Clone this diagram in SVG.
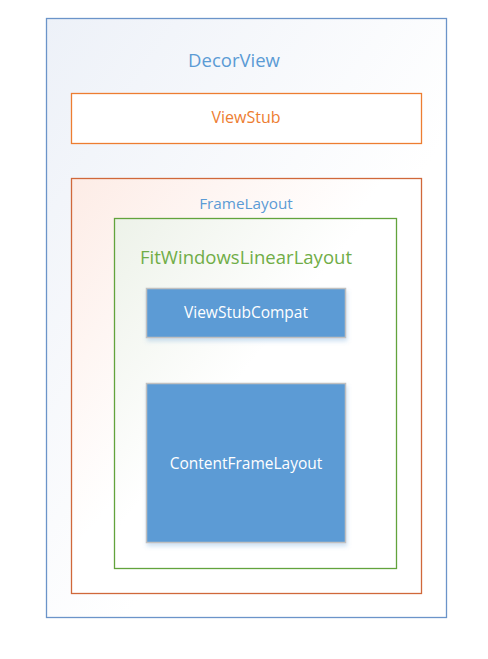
<svg xmlns="http://www.w3.org/2000/svg" width="488" height="659" viewBox="0 0 488 659">
<defs>
<linearGradient id="gDecor" x1="0" y1="0" x2="1" y2="1"><stop offset="0" stop-color="#edf1f8"/><stop offset="0.6" stop-color="#ffffff"/></linearGradient>
<linearGradient id="gFrame" x1="0" y1="0" x2="1" y2="1"><stop offset="0" stop-color="#fdece6"/><stop offset="0.45" stop-color="#ffffff"/></linearGradient>
<linearGradient id="gFit" x1="0" y1="0" x2="1" y2="1"><stop offset="0" stop-color="#edf2e9"/><stop offset="0.45" stop-color="#ffffff"/></linearGradient>
<filter id="sh" x="-10%" y="-10%" width="130%" height="130%"><feGaussianBlur in="SourceAlpha" stdDeviation="2"/><feOffset dx="1" dy="3" result="b"/><feFlood flood-color="#5b9bd5" flood-opacity="0.3"/><feComposite in2="b" operator="in"/><feMerge><feMergeNode/><feMergeNode in="SourceGraphic"/></feMerge></filter>
</defs>
<style>
text{font-family:"Open Sans","Noto Sans","Liberation Sans",sans-serif;text-anchor:middle}
.blue{fill:#5b9bd5;stroke:#c0c0c0;stroke-width:1.5}
.w{fill:#ffffff;font-size:15.5px}
</style>
<rect width="488" height="659" fill="#ffffff"/>
<g id="DecorView">
<rect x="46.5" y="18.5" width="400" height="599" fill="url(#gDecor)" stroke="#6b94c9" stroke-width="1.3"/>
<text x="234" y="67" font-size="18.5" fill="#5b9bd5">DecorView</text>
</g>
<g id="ViewStub">
<rect x="71.5" y="93.5" width="350" height="50" fill="#ffffff" stroke="#ed7d31" stroke-width="1.3"/>
<text x="246" y="123" font-size="16" fill="#ed7d31">ViewStub</text>
</g>
<g id="FrameLayout">
<rect x="71.5" y="178.5" width="350" height="415" fill="url(#gFrame)" stroke="#d0683a" stroke-width="1.3"/>
<text x="246" y="209" font-size="15.3" fill="#5b9bd5">FrameLayout</text>
</g>
<g id="FitWindowsLinearLayout">
<rect x="114.5" y="218.5" width="282" height="350" fill="url(#gFit)" stroke="#62a33c" stroke-width="1.3"/>
<text x="246" y="264" font-size="18" fill="#70ad47" textLength="212" lengthAdjust="spacingAndGlyphs">FitWindowsLinearLayout</text>
</g>
<g id="ViewStubCompat">
<rect class="blue" x="146.5" y="288.5" width="199" height="49" filter="url(#sh)"/>
<text class="w" x="246" y="318">ViewStubCompat</text>
</g>
<g id="ContentFrameLayout">
<rect class="blue" x="146.5" y="383.5" width="199" height="159" filter="url(#sh)"/>
<text class="w" x="246" y="469">ContentFrameLayout</text>
</g>
<g id="connectors"/>
</svg>
